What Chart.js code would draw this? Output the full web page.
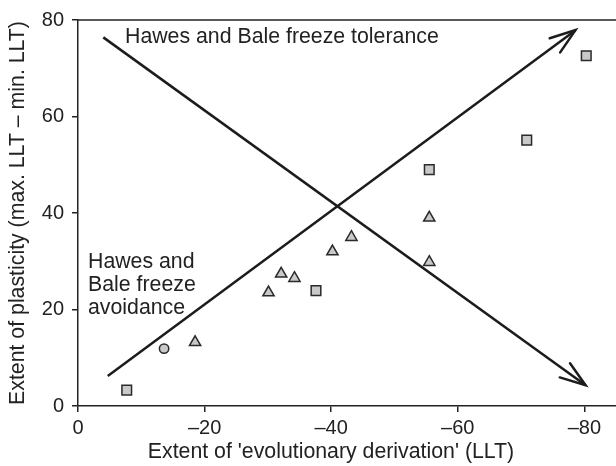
<!DOCTYPE html>
<html>
<head>
<meta charset="utf-8">
<script src="https://cdn.jsdelivr.net/npm/chart.js@4/dist/chart.umd.min.js"></script>
<style>
  html, body { margin: 0; padding: 0; background: #fff; }
  #wrap { width: 616px; height: 466px; }
</style>
</head>
<body>
<div id="wrap"><canvas id="plasticity-chart"></canvas></div>
<script>
// values (x is LLT, so it runs negative to the right)
const squareX = [-7.7, -37.6, -55.5, -70.9, -80.3];
const squareY = [3.3, 23.9, 49.0, 55.1, 72.6];
const triangleX = [-18.5, -30.1, -32.1, -34.2, -40.2, -43.2, -55.5, -55.5];
const triangleY = [13.2, 23.5, 27.4, 26.5, 32.0, 35.0, 39.0, 29.8];
const circleX = [-13.6];
const circleY = [11.9];
const avoidanceX = [-4.7, -78.6];
const avoidanceY = [6.2, 77.9];
const toleranceX = [-4.0, -80.2];
const toleranceY = [76.4, 4.3];
const xTicks = [0, -20, -40, -60, -80];
const yTicks = [0, 20, 40, 60, 80];

const ink = '#222';
const fontFamily = '"Liberation Sans", Arial, sans-serif';
Chart.defaults.font.family = fontFamily;
Chart.defaults.color = ink;

const toPoints = (xs, ys) => xs.map((x, i) => ({ x: x, y: ys[i] }));

const markerStyle = {
    backgroundColor: '#c9c9c9',
    borderColor: '#2a2a2a',
    borderWidth: 1.5,
    showLine: false
};
const arrowLine = {
    showLine: true,
    pointRadius: 0,
    borderColor: '#1c1c1c',
    borderWidth: 2.5,
    arrow: true
};

// open arrow heads at the end of each line
const arrowHeads = {
    id: 'arrowHeads',
    afterDatasetsDraw(chart) {
        const ctx = chart.ctx;
        chart.data.datasets.forEach((ds, i) => {
            if (!ds.arrow) return;
            const pts = chart.getDatasetMeta(i).data;
            const a = pts[pts.length - 2], b = pts[pts.length - 1];
            const ang = Math.atan2(b.y - a.y, b.x - a.x);
            const len = 27, spread = 0.33;
            ctx.save();
            ctx.strokeStyle = '#1c1c1c';
            ctx.lineWidth = 2.5;
            ctx.lineCap = 'round';
            ctx.beginPath();
            ctx.moveTo(b.x - len * Math.cos(ang - spread), b.y - len * Math.sin(ang - spread));
            ctx.lineTo(b.x, b.y);
            ctx.lineTo(b.x - len * Math.cos(ang + spread), b.y - len * Math.sin(ang + spread));
            ctx.stroke();
            ctx.restore();
        });
    }
};

// top edge of the frame, the x title and the two text labels
const frameAndNotes = {
    id: 'frameAndNotes',
    afterDraw(chart) {
        const ctx = chart.ctx;
        const area = chart.chartArea;
        ctx.save();
        ctx.strokeStyle = ink;
        ctx.lineWidth = 1.5;
        ctx.beginPath();
        ctx.moveTo(area.left, area.top);
        ctx.lineTo(area.right, area.top);
        ctx.stroke();

        ctx.fillStyle = ink;
        ctx.font = '21.3px ' + fontFamily;
        ctx.textBaseline = 'middle';
        ctx.textAlign = 'center';
        ctx.fillText("Extent of 'evolutionary derivation' (LLT)", 331, 452);
        ctx.textAlign = 'left';
        ctx.fillText('Hawes and Bale freeze tolerance', 125, 37);
        ['Hawes and', 'Bale freeze', 'avoidance'].forEach((t, i) => {
            ctx.fillText(t, 88, 262 + i * 23);
        });
        ctx.restore();
    }
};

const ctx = document.getElementById('plasticity-chart');
new Chart(ctx, {
    type: 'scatter',
    data: {
        datasets: [
            Object.assign({ data: toPoints(squareX, squareY), pointStyle: 'rect', pointRadius: 6.8 }, markerStyle),
            Object.assign({ data: toPoints(triangleX, triangleY), pointStyle: 'triangle', pointRadius: 6.5 }, markerStyle),
            Object.assign({ data: toPoints(circleX, circleY), pointStyle: 'circle', pointRadius: 4.7 }, markerStyle),
            Object.assign({ data: toPoints(avoidanceX, avoidanceY) }, arrowLine),
            Object.assign({ data: toPoints(toleranceX, toleranceY) }, arrowLine)
        ]
    },
    options: {
        responsive: true,
        maintainAspectRatio: false,
        animation: false,
        layout: { autoPadding: false, padding: { top: 17, right: 0, bottom: 0, left: 0 } },
        plugins: {
            legend: { display: false },
            tooltip: { enabled: false }
        },
        scales: {
            x: {
                type: 'linear',
                reverse: true,
                min: -85,
                max: 0,
                afterBuildTicks: s => { s.ticks = xTicks.map(v => ({ value: v })); },
                afterFit: s => { s.height = 60; },
                ticks: {
                    font: { size: 20 },
                    color: ink,
                    padding: 4,
                    maxRotation: 0,
                    callback: v => v < 0 ? '\u2013' + (-v) : String(v)
                },
                grid: { drawOnChartArea: false, tickLength: 6, color: ink, lineWidth: 1.5 },
                border: { color: ink, width: 1.5 }
            },
            y: {
                min: 0,
                max: 80,
                afterBuildTicks: s => { s.ticks = yTicks.map(v => ({ value: v })); },
                afterFit: s => { s.width = 78; },
                ticks: { font: { size: 20 }, color: ink, padding: 8 },
                grid: { drawOnChartArea: false, tickLength: 6, color: ink, lineWidth: 1.5 },
                border: { color: ink, width: 1.5 },
                title: {
                    display: true,
                    text: 'Extent of plasticity (max. LLT \u2013 min. LLT)',
                    font: { size: 21.3 },
                    color: ink,
                    padding: { top: 5, bottom: 0 }
                }
            }
        }
    },
    plugins: [arrowHeads, frameAndNotes]
});
</script>
</body>
</html>
